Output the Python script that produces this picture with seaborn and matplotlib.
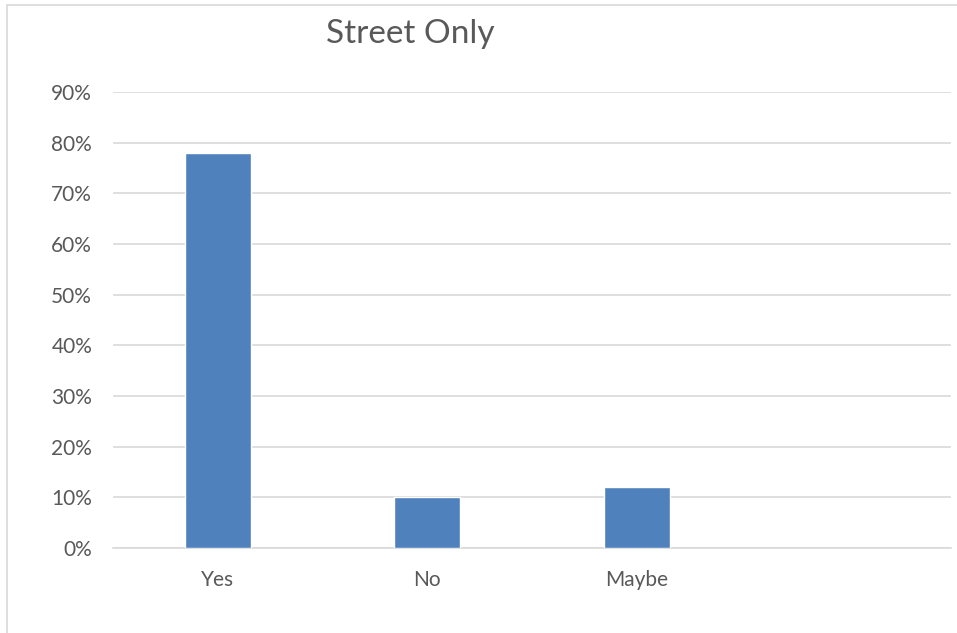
import matplotlib
matplotlib.use("Agg")
import matplotlib.pyplot as plt
from matplotlib.lines import Line2D
from matplotlib.ticker import PercentFormatter
import seaborn as sns
import pandas as pd

categories = ["Yes", "No", "Maybe", " "]
answers = ["Yes", "No", "Maybe"]
shares = [0.78, 0.10, 0.12]
y_ticks = [0.0, 0.1, 0.2, 0.3, 0.4, 0.5, 0.6, 0.7, 0.8, 0.9]

sns.set_theme(style="white")
plt.rcParams["font.family"] = ["Lato", "DejaVu Sans"]

TEXT = "#595959"
GRID = "#d9d9d9"
BAR = "#4f81bd"

fig = plt.figure(figsize=(9.57, 6.33), dpi=100)
ax = fig.add_axes([113 / 957, 85 / 633, 838 / 957, 456 / 633])

df = pd.DataFrame({"answer": answers, "share": shares})
sns.barplot(data=df, x="answer", y="share", order=categories, color=BAR,
            saturation=1, width=0.315, ax=ax, zorder=3)

ax.set_ylim(0, 0.9)
ax.set_yticks(y_ticks)
ax.yaxis.set_major_formatter(PercentFormatter(1.0, decimals=0))
ax.grid(axis="y", color=GRID, linewidth=1.2, zorder=0)
ax.set_axisbelow(True)
for side in ["top", "right", "left"]:
    ax.spines[side].set_visible(False)
ax.spines["bottom"].set_color(GRID)
ax.spines["bottom"].set_linewidth(1.2)
ax.set_xlabel("")
ax.set_ylabel("")
ax.tick_params(axis="y", length=0, pad=15, labelsize=15, labelcolor=TEXT)
ax.tick_params(axis="x", length=0, pad=15.5, labelsize=15, labelcolor=TEXT)

fig.text(410 / 957, 1 - 34 / 633, "Street Only", ha="center", va="center",
         fontsize=24, color=TEXT)

# chart area border
fig.add_artist(Line2D([6.5 / 957, 1.0], [1 - 4.5 / 633, 1 - 4.5 / 633],
                      color=GRID, linewidth=1.2, transform=fig.transFigure))
fig.add_artist(Line2D([6.5 / 957, 6.5 / 957], [0.0, 1 - 4.5 / 633],
                      color=GRID, linewidth=1.2, transform=fig.transFigure))

fig.savefig("out.png", dpi=100)
